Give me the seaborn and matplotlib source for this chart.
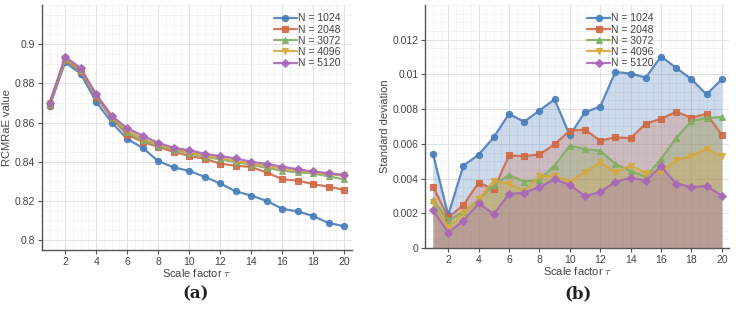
import numpy as np
import pandas as pd
import matplotlib
matplotlib.use("Agg")
import matplotlib.pyplot as plt
import seaborn as sns
from matplotlib.ticker import AutoMinorLocator, MultipleLocator

tau = list(range(1, 21))
sizes = ["N = 1024", "N = 2048", "N = 3072", "N = 4096", "N = 5120"]

# RCMRaE mean value per scale factor
mean_1024 = [0.8686, 0.8908, 0.8849, 0.8706, 0.8600, 0.8516, 0.8471, 0.8403, 0.8371, 0.8353,
             0.8323, 0.8289, 0.8249, 0.8227, 0.8200, 0.8160, 0.8146, 0.8123, 0.8087, 0.8071]
mean_2048 = [0.8687, 0.8921, 0.8862, 0.8731, 0.8622, 0.8538, 0.8501, 0.8476, 0.8450, 0.8430,
             0.8415, 0.8390, 0.8380, 0.8373, 0.8345, 0.8311, 0.8303, 0.8286, 0.8272, 0.8257]
mean_3072 = [0.8695, 0.8925, 0.8868, 0.8738, 0.8625, 0.8550, 0.8510, 0.8480, 0.8460, 0.8445,
             0.8425, 0.8412, 0.8398, 0.8385, 0.8368, 0.8355, 0.8345, 0.8340, 0.8325, 0.8310]
mean_4096 = [0.8698, 0.8930, 0.8872, 0.8740, 0.8630, 0.8560, 0.8520, 0.8488, 0.8465, 0.8450,
             0.8430, 0.8420, 0.8405, 0.8390, 0.8378, 0.8365, 0.8355, 0.8345, 0.8335, 0.8330]
mean_5120 = [0.8700, 0.8936, 0.8877, 0.8745, 0.8634, 0.8571, 0.8533, 0.8496, 0.8471, 0.8459,
             0.8440, 0.8429, 0.8417, 0.8400, 0.8388, 0.8375, 0.8361, 0.8350, 0.8341, 0.8333]

# standard deviation per scale factor
std_1024 = [0.00543, 0.00189, 0.00475, 0.00537, 0.00638, 0.00773, 0.00727, 0.00792, 0.00856, 0.00649,
            0.00783, 0.00814, 0.01014, 0.01005, 0.00982, 0.01103, 0.01038, 0.00972, 0.00885, 0.00972]
std_2048 = [0.00354, 0.00176, 0.00247, 0.00377, 0.00338, 0.00533, 0.00529, 0.00539, 0.00597, 0.00676,
            0.00682, 0.00618, 0.00638, 0.00632, 0.00717, 0.00744, 0.00785, 0.00750, 0.00773, 0.00651]
std_3072 = [0.00276, 0.00160, 0.00207, 0.00280, 0.00363, 0.00421, 0.00383, 0.00392, 0.00475, 0.00589,
            0.00570, 0.00560, 0.00485, 0.00444, 0.00410, 0.00512, 0.00634, 0.00730, 0.00750, 0.00754]
std_4096 = [0.00263, 0.00116, 0.00200, 0.00280, 0.00388, 0.00369, 0.00330, 0.00412, 0.00415, 0.00383,
            0.00437, 0.00493, 0.00437, 0.00475, 0.00431, 0.00440, 0.00508, 0.00528, 0.00572, 0.00528]
std_5120 = [0.00218, 0.00089, 0.00157, 0.00257, 0.00195, 0.00311, 0.00319, 0.00350, 0.00396, 0.00363,
            0.00300, 0.00321, 0.00381, 0.00404, 0.00388, 0.00470, 0.00371, 0.00352, 0.00356, 0.00302]

means = [mean_1024, mean_2048, mean_3072, mean_4096, mean_5120]
stds = [std_1024, std_2048, std_3072, std_4096, std_5120]

colors = ["#4a7ebb", "#cf6a48", "#82ad63", "#d4a93f", "#a768b6"]
markers = ["o", "s", "^", "v", "D"]

sns.set_style("ticks")
plt.rcParams["font.family"] = ["Liberation Sans", "DejaVu Sans"]
plt.rcParams["mathtext.fontset"] = "cm"
text_color = "#444444"


def long_df(series):
    rows = []
    for lab, vals in zip(sizes, series):
        for t, v in zip(tau, vals):
            rows.append((t, v, lab))
    return pd.DataFrame(rows, columns=["tau", "value", "N"])


def style_axis(ax):
    ax.xaxis.set_major_locator(MultipleLocator(2))
    ax.xaxis.set_minor_locator(AutoMinorLocator(4))
    ax.yaxis.set_minor_locator(AutoMinorLocator(4))
    ax.grid(which="major", color="#e3e3e3", linewidth=0.8)
    ax.grid(which="minor", color="#f1f1f1", linewidth=0.6)
    ax.set_axisbelow(True)
    ax.tick_params(which="major", length=3, width=0.8, colors="#555555",
                   labelcolor=text_color, labelsize=7.5, pad=2)
    ax.tick_params(which="minor", length=0)
    for s in ["left", "bottom"]:
        ax.spines[s].set_color("#555555")
        ax.spines[s].set_linewidth(1.0)
    sns.despine(ax=ax)
    ax.set_xlim(0.5, 20.5)
    ax.set_xlabel(r"Scale factor $\tau$", fontsize=8, color=text_color, labelpad=0)


def colour_edges(ax):
    # markers with edges in the line colour, as in the reference
    for ln in ax.lines:
        ln.set_markeredgecolor(ln.get_color())


fig = plt.figure(figsize=(7.36, 3.10), dpi=100)
ax1 = fig.add_axes([0.057, 0.194, 0.421, 0.79])
ax2 = fig.add_axes([0.578, 0.2, 0.413, 0.784])

line_kw = dict(hue="N", style="N", markers=markers, dashes=False, palette=colors,
               markersize=4.5, linewidth=1.6, alpha=0.9, markeredgewidth=0.8)
leg_kw = dict(frameon=False, fontsize=7.5, labelspacing=0.12, handlelength=2.2,
              handletextpad=0.1, borderpad=0.3, labelcolor=text_color)

sns.lineplot(data=long_df(means), x="tau", y="value", ax=ax1, **line_kw)
style_axis(ax1)
colour_edges(ax1)
ax1.set_ylim(0.795, 0.92)
ax1.set_yticks([0.8, 0.82, 0.84, 0.86, 0.88, 0.9])
ax1.set_yticklabels(["0.8", "0.82", "0.84", "0.86", "0.88", "0.9"])
ax1.set_ylabel("RCMRaE value", fontsize=8, color=text_color, labelpad=2)
leg1 = ax1.legend(loc="upper right", bbox_to_anchor=(0.99, 1.0), **leg_kw)
for h in leg1.legend_handles:
    h.set_markeredgecolor(h.get_color())

for vals, c in zip(stds, colors):
    ax2.fill_between(tau, 0, vals, color=c, alpha=0.28, linewidth=0)
sns.lineplot(data=long_df(stds), x="tau", y="value", ax=ax2, **line_kw)
style_axis(ax2)
colour_edges(ax2)
ax2.set_ylim(0, 0.014)
ax2.set_yticks([0, 0.002, 0.004, 0.006, 0.008, 0.01, 0.012])
ax2.set_yticklabels(["0", "0.002", "0.004", "0.006", "0.008", "0.01", "0.012"])
ax2.set_ylabel("Standard deviation", fontsize=8, color=text_color, labelpad=2)
leg2 = ax2.legend(loc="upper left", bbox_to_anchor=(0.505, 1.0), **leg_kw)
for h in leg2.legend_handles:
    h.set_markeredgecolor(h.get_color())

fig.text(0.266, 0.025, "(a)", ha="center", va="bottom", fontsize=12,
         family="DejaVu Serif", fontweight="bold", color="#222222")
fig.text(0.785, 0.025, "(b)", ha="center", va="bottom", fontsize=12,
         family="DejaVu Serif", fontweight="bold", color="#222222")

fig.savefig("out.png", dpi=100)
plt.close(fig)
